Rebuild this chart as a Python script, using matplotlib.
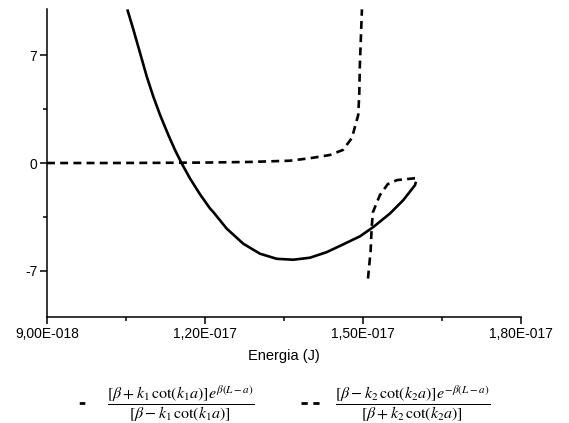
import matplotlib
matplotlib.use("Agg")
import matplotlib.pyplot as plt
from matplotlib.lines import Line2D
from matplotlib.ticker import FixedLocator, FuncFormatter

plt.rcParams["font.family"] = ["Liberation Sans", "DejaVu Sans"]
plt.rcParams["mathtext.fontset"] = "stix"
plt.rcParams["axes.unicode_minus"] = False

# solid curve: [beta + k1 cot(k1 a)] e^{beta(L-a)} / [beta - k1 cot(k1 a)]
e_solid = [1.0525e-17, 1.0639e-17, 1.0766e-17, 1.0893e-17, 1.1018e-17, 1.1146e-17,
           1.1303e-17, 1.1430e-17, 1.1557e-17, 1.1715e-17, 1.1905e-17, 1.2095e-17,
           1.2157e-17, 1.2412e-17, 1.2727e-17, 1.3044e-17, 1.3361e-17, 1.3676e-17,
           1.3993e-17, 1.4310e-17, 1.4626e-17, 1.4943e-17, 1.5195e-17, 1.5512e-17,
           1.5765e-17, 1.5987e-17, 1.6006e-17]
f_solid = [9.98, 8.68, 7.16, 5.63, 4.32, 3.13,
           1.83, 0.85, -0.02, -1.00, -2.03, -2.95,
           -3.18, -4.26, -5.24, -5.89, -6.22, -6.28,
           -6.15, -5.79, -5.28, -4.76, -4.16, -3.28,
           -2.41, -1.44, -1.22]

# dashed curve, first branch (goes to +inf near 1.50E-017)
e_dash1 = [9.00e-18, 1.0e-17, 1.10e-17, 1.20e-17, 1.285e-17, 1.361e-17, 1.399e-17,
           1.437e-17, 1.462e-17, 1.479e-17, 1.491e-17, 1.493e-17, 1.494e-17, 1.498e-17]
f_dash1 = [0.0, 0.0, 0.01, 0.03, 0.07, 0.15, 0.31,
           0.52, 0.85, 1.63, 3.13, 4.55, 6.28, 9.98]

# dashed curve, second branch
e_dash2 = [1.5095e-17, 1.5146e-17, 1.5165e-17, 1.5190e-17, 1.5320e-17, 1.5470e-17,
           1.5645e-17, 1.5840e-17, 1.6010e-17]
f_dash2 = [-7.50, -5.67, -4.16, -3.18, -2.09, -1.37, -1.11, -1.04, -0.98]

label_solid = r"$\dfrac{[\beta+k_1\,\cot(k_1a)]e^{\beta(L-a)}}{[\beta-k_1\,\cot(k_1a)]}$"
label_dash = r"$\dfrac{[\beta-k_2\,\cot(k_2a)]e^{-\beta(L-a)}}{[\beta+k_2\,\cot(k_2a)]}$"


def origin_fmt(v, pos):
    mant, ex = f"{v:.2E}".split("E")
    return f"{mant.replace('.', ',')}E{int(ex):+04d}".replace("E+", "E")


fig = plt.figure(figsize=(5.69, 4.23), dpi=100)
ax = fig.add_axes([0.0826, 0.2506, 0.833, 0.728])

lw = 1.9
ax.plot(e_solid, f_solid, color="black", lw=lw, solid_capstyle="butt")
ax.plot(e_dash1, f_dash1, color="black", lw=lw, ls=(0, (3.0, 2.0)))
ax.plot(e_dash2, f_dash2, color="black", lw=lw, ls=(0, (3.0, 2.0)))

ax.set_xlim(9e-18, 1.8e-17)
ax.set_ylim(-10, 10)
ax.xaxis.set_major_locator(FixedLocator([9e-18, 1.2e-17, 1.5e-17, 1.8e-17]))
ax.xaxis.set_minor_locator(FixedLocator([1.05e-17, 1.35e-17, 1.65e-17]))
ax.xaxis.set_major_formatter(FuncFormatter(origin_fmt))
ax.yaxis.set_major_locator(FixedLocator([-7, 0, 7]))
ax.yaxis.set_minor_locator(FixedLocator([-3.5, 3.5]))

for s in ("top", "right"):
    ax.spines[s].set_visible(False)
for s in ("left", "bottom"):
    ax.spines[s].set_linewidth(1.1)
ax.tick_params(which="major", direction="out", length=5, width=1.1, labelsize=10, pad=2)
ax.tick_params(which="minor", direction="out", length=3, width=1.1)
ax.set_xlabel("Energia (J)", fontsize=10.5, labelpad=6)

handles = [
    Line2D([], [], color="black", lw=2, ls=(4.25, (2, 4.5))),
    Line2D([], [], color="black", lw=2, ls=(0, (2.25, 2))),
]
fig.legend(handles, [label_solid, label_dash], loc="center", ncol=2,
           bbox_to_anchor=(0.495, 0.045), frameon=False, fontsize=11.5,
           handlelength=1.3, handletextpad=0.8, columnspacing=2.9)

fig.savefig("out.png", dpi=100)
